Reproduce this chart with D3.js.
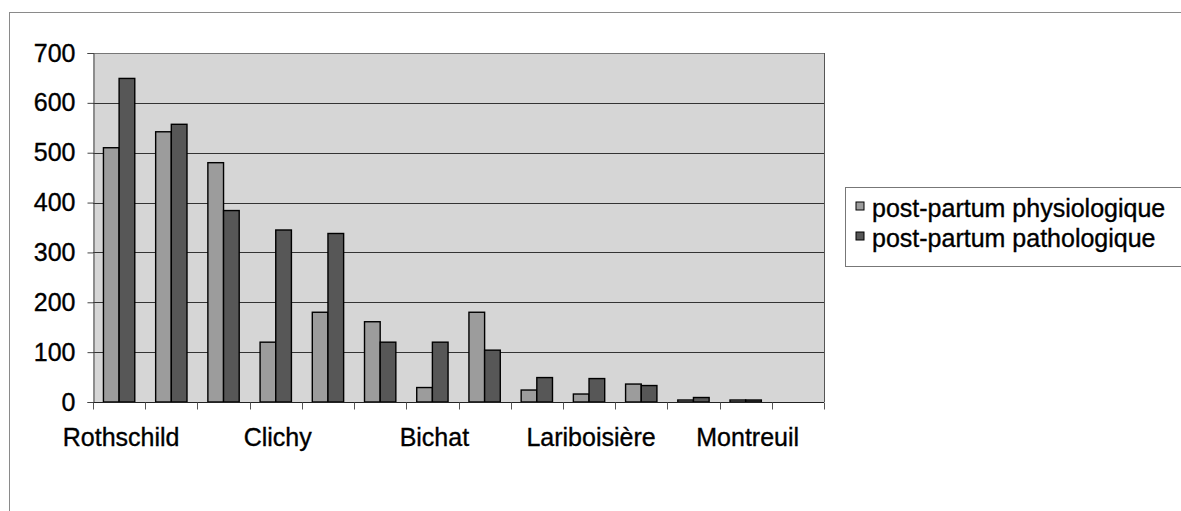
<!DOCTYPE html>
<html>
<head>
<meta charset="utf-8">
<script src="https://cdn.jsdelivr.net/npm/d3@7/dist/d3.min.js"></script>
<style>
  html, body { margin: 0; padding: 0; background: #fff; }
  svg { display: block; }
  text { font-family: "Liberation Sans", Arial, sans-serif; fill: #000; stroke: #000; stroke-width: 0.35px; }
</style>
</head>
<body>
<svg id="chart" width="1181" height="511"></svg>
<script>
// ---- data ----
const categories = ["Rothschild", "", "", "Clichy", "", "", "Bichat", "", "", "Lariboisière", "", "", "Montreuil", ""];
const seriesNames = ["post-partum physiologique", "post-partum pathologique"];
const physiologique = [510, 542, 480, 120, 180, 161, 29, 180, 24, 16, 36, 4, 4, 0];
const pathologique  = [649, 557, 384, 345, 338, 120, 120, 104, 49, 47, 33, 9, 4, 0];
const yTicks = [0, 100, 200, 300, 400, 500, 600, 700];

const seriesValues = [physiologique, pathologique];
const colors = ["#9c9c9c", "#575757"];

const svg = d3.select("#chart");
const W = 1181, H = 511;

// outer chart border (cropped)
svg.append("rect")
  .attr("x", 9.5).attr("y", 12.5).attr("width", W + 20).attr("height", H + 20)
  .attr("fill", "#fff").attr("stroke", "#8a8a8a").attr("stroke-width", 1);

const plot = { left: 93, top: 53, right: 824, bottom: 402 };

const x0 = d3.scaleBand()
  .domain(d3.range(categories.length))
  .range([plot.left, plot.right])
  .padding(0);
const x1 = d3.scaleBand()
  .domain(d3.range(seriesNames.length))
  .range([x0.bandwidth() * 0.2, x0.bandwidth() * 0.8])
  .padding(0);
const y = d3.scaleLinear().domain([0, 700]).range([plot.bottom, plot.top]);

// plot background
svg.append("rect")
  .attr("x", plot.left).attr("y", plot.top)
  .attr("width", plot.right - plot.left).attr("height", plot.bottom - plot.top)
  .attr("fill", "#d6d6d6");

// gridlines
svg.append("g")
  .selectAll("line")
  .data(yTicks.filter(d => d > 0))
  .join("line")
  .attr("x1", plot.left).attr("x2", plot.right)
  .attr("y1", d => Math.round(y(d)) + 0.5).attr("y2", d => Math.round(y(d)) + 0.5)
  .attr("stroke", d => d === 700 ? "#777" : "#333").attr("stroke-width", 1);

// right border of plot
svg.append("line")
  .attr("x1", plot.right + 0.5).attr("x2", plot.right + 0.5)
  .attr("y1", plot.top).attr("y2", plot.bottom)
  .attr("stroke", "#555").attr("stroke-width", 1);

// bars
const groups = svg.append("g")
  .selectAll("g")
  .data(categories.map((c, i) => i))
  .join("g")
  .attr("transform", i => `translate(${x0(i)},0)`);

groups.selectAll("rect")
  .data(i => seriesValues.map((vals, s) => ({ s, v: vals[i] })))
  .join("rect")
  .filter(d => d.v > 0)
  .attr("x", d => x1(d.s))
  .attr("y", d => y(d.v))
  .attr("width", x1.bandwidth())
  .attr("height", d => y(0) - y(d.v))
  .attr("fill", d => colors[d.s])
  .attr("stroke", "#000")
  .attr("stroke-width", 1.4);

// y axis
const yAxis = d3.axisLeft(y).tickValues(yTicks).tickSize(6).tickPadding(12).tickFormat(d3.format("d"));
const gy = svg.append("g").attr("transform", `translate(${plot.left + 0.5},0)`).call(yAxis);
gy.select(".domain").attr("stroke", "#444");
gy.selectAll(".tick line").attr("stroke", "#444");
gy.selectAll("text").attr("font-size", 25).attr("font-family", "Liberation Sans, Arial, sans-serif").attr("fill", "#000");

// x axis
const xTickPos = d3.scaleLinear().domain([0, categories.length]).range([plot.left, plot.right]);
const gx = svg.append("g").attr("transform", `translate(0,${plot.bottom + 0.5})`);
gx.append("line").attr("x1", plot.left).attr("x2", plot.right).attr("stroke", "#222").attr("stroke-width", 1.2);
gx.selectAll("line.tk")
  .data(d3.range(categories.length + 1))
  .join("line").attr("class", "tk")
  .attr("x1", d => Math.round(xTickPos(d)) + 0.5).attr("x2", d => Math.round(xTickPos(d)) + 0.5)
  .attr("y1", 0).attr("y2", 7)
  .attr("stroke", "#555");
gx.selectAll("text")
  .data(categories.map((c, i) => ({ c, i })).filter(d => d.c !== ""))
  .join("text")
  .attr("x", d => x0(d.i) + x0.bandwidth() / 2 + 2)
  .attr("y", 43)
  .attr("text-anchor", "middle")
  .attr("font-size", 25)
  .text(d => d.c);

// legend
const lg = svg.append("g");
lg.append("rect")
  .attr("x", 845.5).attr("y", 187.5).attr("width", 400).attr("height", 79)
  .attr("fill", "#fff").attr("stroke", "#777").attr("stroke-width", 1);
const items = lg.selectAll("g.item")
  .data(seriesNames.map((n, i) => ({ n, i })))
  .join("g").attr("class", "item")
  .attr("transform", d => `translate(856,${202 + d.i * 30})`);
items.append("rect")
  .attr("width", 8).attr("height", 8)
  .attr("fill", d => colors[d.i]).attr("stroke", "#000").attr("stroke-width", 1);
items.append("text")
  .attr("x", 16).attr("y", 15)
  .attr("font-size", 25)
  .text(d => d.n);
</script>
</body>
</html>
